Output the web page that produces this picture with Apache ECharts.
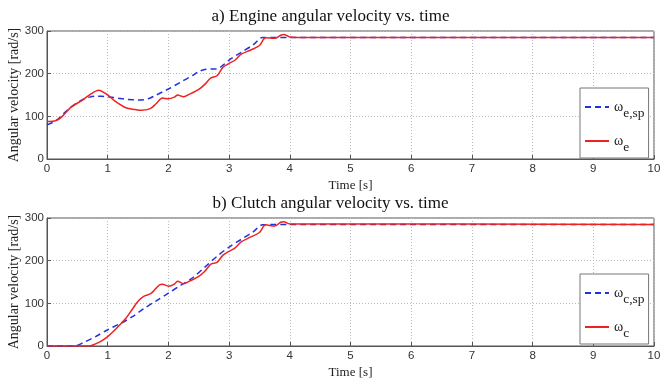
<!DOCTYPE html>
<html>
<head>
<meta charset="utf-8">
<script src="https://cdn.jsdelivr.net/npm/echarts@6/dist/echarts.min.js"></script>
<style>
  html, body { margin: 0; padding: 0; background: #fff; }
  #chart { width: 661px; height: 383px; }
</style>
</head>
<body>
<div id="chart"></div>
<script>
// engine speed set point and measured
const engineSpTime = [0, 0.1, 0.2, 0.3, 0.4, 0.5, 0.6, 0.7, 0.8, 0.9, 1.0, 1.1, 1.2, 1.3, 1.4, 1.5, 1.6, 1.7, 1.8, 1.9, 2.0, 2.2, 2.4, 2.5, 2.6, 2.7, 2.8, 2.9, 3.0, 3.2, 3.4, 3.55, 4.0, 10];
const engineSpValue = [80, 86, 96, 110, 122, 132, 140, 145, 147, 147, 146, 144, 142, 140, 139, 138, 139, 143, 150, 157, 164, 180, 196, 205, 210, 211, 211, 220, 232, 250, 268, 285, 285, 285];

const engineTime = [0, 0.15, 0.25, 0.4, 0.55, 0.7, 0.85, 1.0, 1.1, 1.2, 1.3, 1.45, 1.55, 1.7, 1.8, 1.9, 2.0, 2.1, 2.15, 2.25, 2.35, 2.5, 2.6, 2.7, 2.8, 2.9, 3.0, 3.1, 3.2, 3.35, 3.5, 3.6, 3.75, 3.85, 3.9, 4.0, 4.2, 10];
const engineValue = [88, 90, 100, 122, 135, 150, 161, 150, 138, 128, 120, 116, 114, 118, 130, 143, 141, 145, 150, 146, 152, 163, 175, 190, 195, 215, 224, 232, 246, 255, 266, 284, 283, 290, 292, 286, 285, 285];

// clutch speed set point and measured
const clutchSpTime = [0, 0.45, 0.6, 0.8, 1.0, 1.2, 1.4, 1.6, 1.8, 2.0, 2.2, 2.4, 2.6, 2.8, 3.0, 3.2, 3.4, 3.55, 4.0, 10];
const clutchSpValue = [0, 0, 8, 22, 38, 52, 68, 88, 106, 124, 142, 160, 185, 210, 232, 250, 268, 284, 285, 285];

const clutchTime = [0, 0.7, 0.8, 0.9, 1.0, 1.1, 1.2, 1.3, 1.4, 1.5, 1.6, 1.7, 1.75, 1.85, 1.9, 2.0, 2.1, 2.15, 2.25, 2.35, 2.5, 2.6, 2.7, 2.8, 2.9, 3.0, 3.1, 3.2, 3.35, 3.5, 3.6, 3.75, 3.85, 3.9, 4.0, 4.2, 10];
const clutchValue = [0, 0, 5, 12, 22, 35, 50, 65, 85, 105, 117, 122, 128, 143, 145, 140, 145, 152, 146, 152, 163, 175, 192, 196, 213, 222, 230, 244, 255, 266, 284, 281, 290, 291, 286, 286, 285];

const titles = ['a) Engine angular velocity vs. time', 'b) Clutch angular velocity vs. time'];
const xTicks = [0, 1, 2, 3, 4, 5, 6, 7, 8, 9, 10];
const yTicks = [0, 100, 200, 300];

const zip = (t, v) => t.map((x, i) => [x, v[i]]);

const serif = 'Liberation Serif';
const grids = [
    {left: 47, right: 7, top: 31, height: 128},
    {left: 47, right: 7, top: 218, height: 128}
];

const xAxisFor = (idx) => ({
    gridIndex: idx,
    type: 'value',
    min: xTicks[0],
    max: xTicks[xTicks.length - 1],
    interval: 1,
    name: 'Time [s]',
    nameLocation: 'middle',
    nameGap: 20,
    nameMoveOverlap: false,
    nameTextStyle: {fontFamily: serif, fontSize: 13, color: '#222'},
    axisLine: {lineStyle: {color: '#555'}},
    axisTick: {inside: true, length: 4, lineStyle: {color: '#555'}},
    axisLabel: {fontFamily: 'Liberation Sans', fontSize: 11.5, color: '#333', margin: 4},
    splitLine: {show: true, lineStyle: {color: '#bbb', type: [1, 2]}}
});

const yAxisFor = (idx) => ({
    gridIndex: idx,
    type: 'value',
    min: yTicks[0],
    max: yTicks[yTicks.length - 1],
    interval: 100,
    name: 'Angular velocity [rad/s]',
    nameLocation: 'middle',
    nameGap: 26,
    nameMoveOverlap: false,
    nameTextStyle: {fontFamily: serif, fontSize: 14, color: '#222'},
    axisLine: {show: true, lineStyle: {color: '#555'}},
    axisTick: {show: true, inside: true, length: 4, lineStyle: {color: '#555'}},
    axisLabel: {fontFamily: 'Liberation Sans', fontSize: 11.5, color: '#333', margin: 3},
    splitLine: {show: true, lineStyle: {color: '#bbb', type: [1, 2]}}
});

const legendFor = (names, top) => ({
    data: names,
    orient: 'vertical',
    left: 580,
    top: top,
    padding: [4, 4, 4, 4],
    itemGap: 6,
    itemWidth: 24,
    itemHeight: 10,
    backgroundColor: '#fff',
    borderColor: '#777',
    borderWidth: 1,
    itemStyle: {opacity: 0},
    formatter: (name) => {
        const sub = name.split('_')[1];
        return '{w|ω}{s|' + sub + '}';
    },
    textStyle: {
        fontFamily: serif,
        color: '#222',
        rich: {
            w: {fontFamily: serif, fontSize: 14, lineHeight: 26, verticalAlign: 'middle'},
            s: {fontFamily: serif, fontSize: 13.5, lineHeight: 26, verticalAlign: 'bottom', padding: [14, 0, 0, 0]}
        }
    }
});

const lineSeries = (name, idx, data, dashed) => ({
    name: name,
    type: 'line',
    xAxisIndex: idx,
    yAxisIndex: idx,
    data: data,
    smooth: 0.3,
    symbol: 'none',
    color: dashed ? '#2233dd' : '#ee2222',
    lineStyle: {width: 1.5, type: dashed ? [6, 4] : 'solid', color: dashed ? '#2233dd' : '#ee2222'}
});

const chart = echarts.init(document.getElementById('chart'));
chart.setOption({
    animation: false,
    backgroundColor: '#fff',
    title: [
        {text: titles[0], left: 'center', top: 3, textStyle: {fontFamily: serif, fontSize: 17, fontWeight: 'normal', color: '#111'}},
        {text: titles[1], left: 'center', top: 190, textStyle: {fontFamily: serif, fontSize: 17, fontWeight: 'normal', color: '#111'}}
    ],
    grid: grids.map(g => Object.assign({show: true, borderColor: '#555', borderWidth: 1, outerBoundsMode: 'none', containLabel: false}, g)),
    xAxis: [xAxisFor(0), xAxisFor(1)],
    yAxis: [yAxisFor(0), yAxisFor(1)],
    legend: [
        legendFor(['ω_e,sp', 'ω_e'], 88),
        legendFor(['ω_c,sp', 'ω_c'], 274)
    ],
    series: [
        lineSeries('ω_e,sp', 0, zip(engineSpTime, engineSpValue), true),
        lineSeries('ω_e', 0, zip(engineTime, engineValue), false),
        lineSeries('ω_c,sp', 1, zip(clutchSpTime, clutchSpValue), true),
        lineSeries('ω_c', 1, zip(clutchTime, clutchValue), false)
    ]
});
</script>
</body>
</html>
